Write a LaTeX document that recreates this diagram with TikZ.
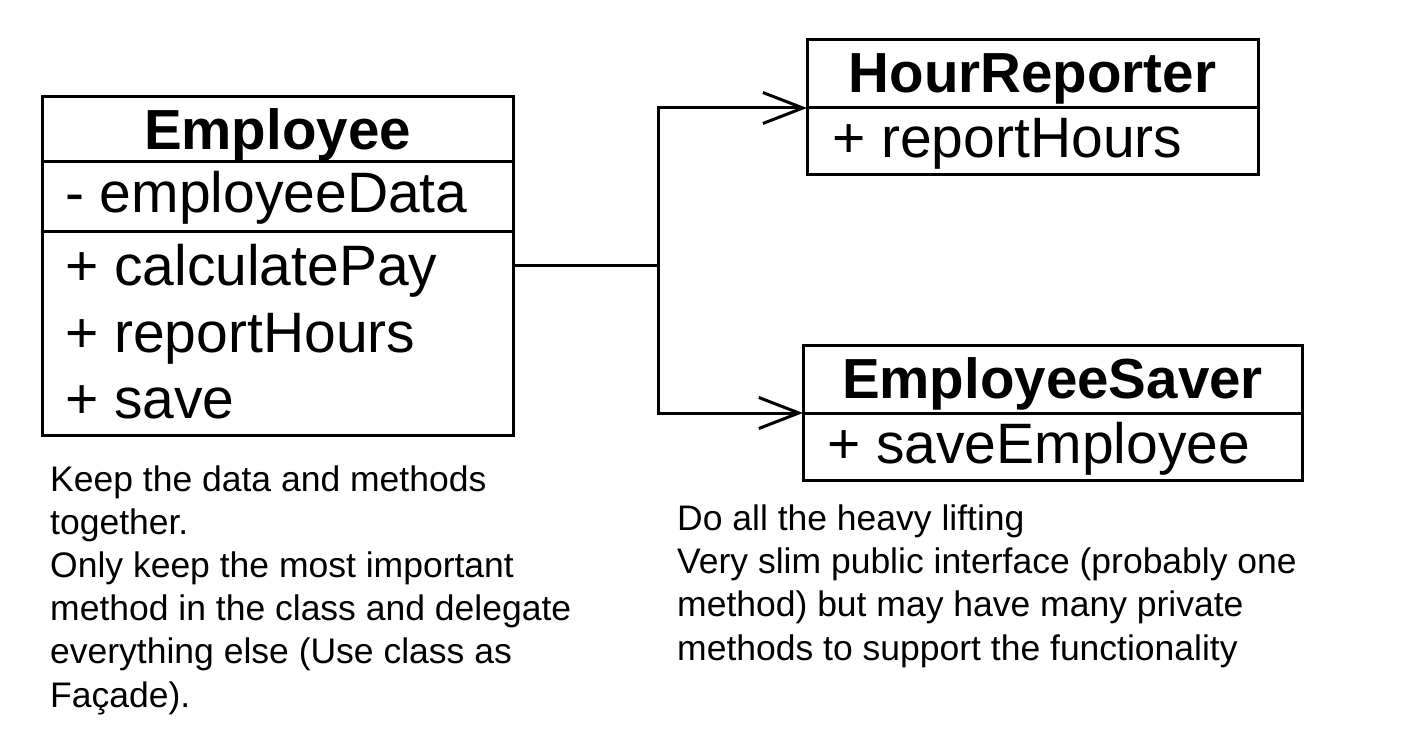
\documentclass[tikz,border=0pt]{standalone}
\usepackage{fontspec}
\setmainfont{Liberation Sans}
\usetikzlibrary{arrows.meta}
\begin{document}
\begin{tikzpicture}[x=1pt,y=-1pt,
  comp/.style={draw, line width=3pt, anchor=north west, inner sep=0pt, outer sep=0pt},
  title/.style={anchor=base, inner sep=0pt, font=\fontsize{56.5}{60}\selectfont\bfseries},
  member/.style={anchor=base west, inner sep=0pt, font=\fontsize{57}{66}\selectfont},
  note/.style={anchor=base west, inner sep=0pt, align=left, font=\fontsize{35.5}{43.2}\selectfont},
  conn/.style={line width=3pt},
  arr/.style={conn, -{Straight Barb[length=40pt,width=31pt]}}]
\useasboundingbox (0,0) rectangle (1406,738);
\fill[white] (0,0) rectangle (1406,738);
% Employee
\node[comp, minimum width=471pt, minimum height=65pt] (etitle) at (42,97) {};
\node[comp, minimum width=471pt, minimum height=70pt] (eattr) at (42,162) {};
\node[comp, minimum width=471pt, minimum height=203pt] (emeth) at (42,232) {};
\node[title] (etitletxt) at (277.5,150) {Employee};
\node[member] (eattr1) at (65,213) {- employeeData};
\node[member] (emeth1) at (65,285) {+ calculatePay};
\node[member] (emeth2) at (65,352) {+ reportHours};
\node[member] (emeth3) at (65,418) {+ save};
% HourReporter
\node[comp, minimum width=451pt, minimum height=68pt] (hrtitle) at (807,40) {};
\node[comp, minimum width=451pt, minimum height=67pt] (hrmeth) at (807,108) {};
\node[title] (hrtitletxt) at (1032.5,93) {HourReporter};
\node[member] (hrmeth1) at (832,158) {+ reportHours};
% EmployeeSaver
\node[comp, minimum width=499pt, minimum height=68pt] (estitle) at (803,345) {};
\node[comp, minimum width=499pt, minimum height=67pt] (esmeth) at (803,413) {};
\node[title] (estitletxt) at (1052.5,398) {EmployeeSaver};
\node[member] (esmeth1) at (827,463) {+ saveEmployee};
% connectors
\coordinate (split) at (658,266);
\draw[conn] (split -| emeth.east) -- (split);
\draw[arr] (split) |- (hrtitle.south west);
\draw[arr] (split) |- (estitle.south west);
% notes (anchor = baseline of the last line)
\node[note] (leftnote) at (50,707) {Keep the data and methods\\together.\\Only keep the most important\\method in the class and delegate\\everything else (Use class as\\Façade).};
\node[note] (rightnote) at (677,660) {Do all the heavy lifting\\Very slim public interface (probably one\\method) but may have many private\\methods to support the functionality};
\end{tikzpicture}
\end{document}
